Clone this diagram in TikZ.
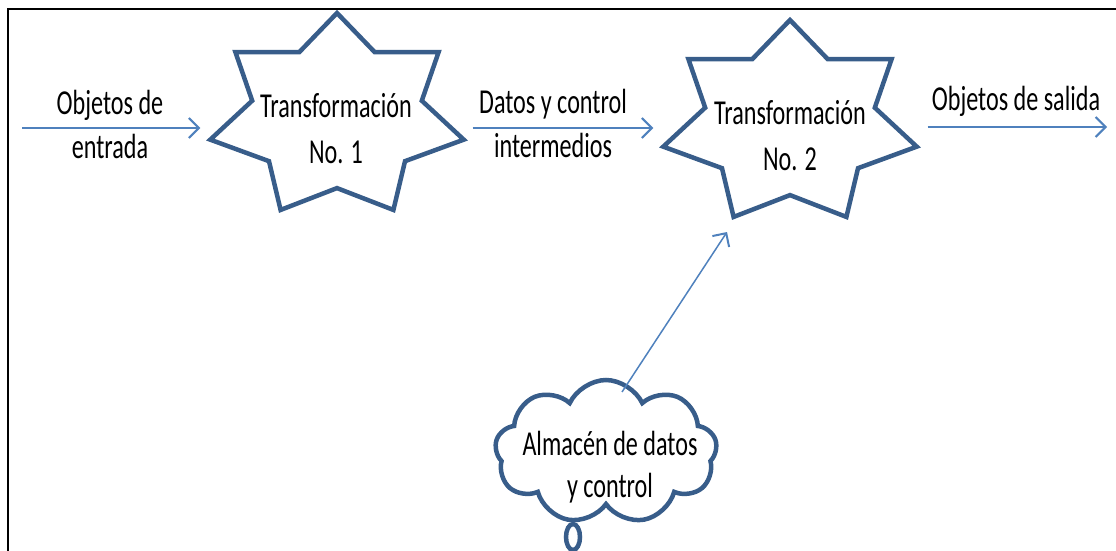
\documentclass[tikz,border=0pt]{standalone}
\usepackage{fontspec}
\setmainfont[FakeStretch=0.69]{Carlito}
\usetikzlibrary{arrows.meta,shapes.symbols}
\definecolor{starblue}{RGB}{56,93,138}
\definecolor{flowblue}{RGB}{79,129,189}
\begin{document}
\begin{tikzpicture}[x=1pt,y=-1pt,
  lbl/.style={font=\fontsize{35}{44}\selectfont, align=center, inner sep=0pt, text=black},
  starline/.style={draw=starblue, line width=4.5pt, line join=miter},
  flow/.style={draw=flowblue, line width=2pt,
    -{Straight Barb[length=10pt,width=20pt,line width=2pt]}},
  pics/sevenstar/.style={code={
    \draw[starline] (-90:130 and 103.6)
      \foreach \k in {1,...,7} {
        -- ({-90+(\k-0.5)*360/7}:87 and 71.5) -- ({-90+\k*360/7}:130 and 103.6)
      } -- cycle;
    \coordinate (-w) at ({180+360/28}:130 and 103.6);
    \coordinate (-e) at ({-360/28}:130 and 103.6);
  }},
]
\useasboundingbox (0,0) rectangle (1116,551);

% frame
\draw[line width=2.5pt, line join=miter] (8,551) -- (8,9) -- (1116,9);

% transformation stars (node base = baseline of the last line)
\pic (s1) at (337,116.6) {sevenstar};
\pic (s2) at (790,123.6) {sevenstar};
\node[lbl, anchor=base] (tf1) at (336,163) {Transformación\\[2pt]No. 1};
\node[lbl, anchor=base] (tf2) at (790,170) {Transformación\\[2pt]No. 2};

% data store cloud
\node[cloud, draw=starblue, line width=4.5pt, cloud puffs=9, cloud puff arc=130,
      minimum width=222pt, minimum height=144pt, inner sep=0pt] (store) at (606,452) {};
\draw[starline] (573,537) ellipse [x radius=7, y radius=13];
\node[lbl, anchor=base] (storetext) at (610,497) {Almacén de datos\\[-2pt]y control};

% flows
\coordinate (in) at (22,128);
\coordinate (midY) at (0,128);
\coordinate (out) at (1107,127);
\coordinate (storeOut) at (622,392);
\coordinate (tf2In) at (727,232);

\draw[flow, shorten >=10pt] (in) -- (in -| s1-w);
\draw[flow, shorten <=9pt, shorten >=10pt] (s1-e |- midY) -- (s2-w |- midY);
\draw[flow, shorten <=11pt] (s2-e |- out) -- (out);
\draw[flow, line width=1.5pt] (storeOut) -- (tf2In);

% flow labels
\node[lbl, anchor=base] (inlbl) at (110,158) {Objetos de\\entrada};
\node[lbl, anchor=base] (midlbl) at (553,157) {Datos y control\\intermedios};
\node[lbl, anchor=base] (outlbl) at (1016,110) {Objetos de salida};
\end{tikzpicture}
\end{document}
